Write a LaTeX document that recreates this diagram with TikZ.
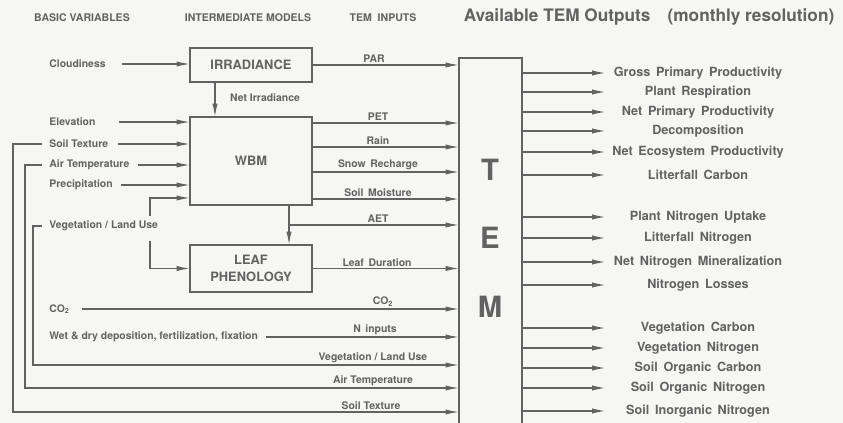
\documentclass[tikz,border=0pt]{standalone}
\usepackage{fontspec}
\setmainfont{TeX Gyre Heros}
\newfontfamily\widefont[WordSpace=1.6]{TeX Gyre Heros}
\usetikzlibrary{arrows.meta,positioning,calc}
\definecolor{ink}{RGB}{98,98,98}
\definecolor{paper}{RGB}{246,246,244}

\begin{document}
\begin{tikzpicture}[
  x=0.03cm, y=-0.03cm,
  every node/.style={text=ink, font=\bfseries\fontsize{8.9}{10}\selectfont},
  head/.style={font=\bfseries\fontsize{9}{11}\selectfont},
  model/.style={rectangle, draw=ink, line width=0.9pt, minimum width=3.66cm, align=center, font=\bfseries\fontsize{11}{13}\selectfont},
  var/.style={anchor=west, inner sep=1pt},
  lab/.style={anchor=south, inner sep=2pt, font=\widefont\bfseries\fontsize{8.9}{10}\selectfont},
  plainlab/.style={anchor=south, inner sep=2pt},
  outl/.style={font=\widefont\bfseries\fontsize{10.8}{12}\selectfont},
  big/.style={font=\bfseries\fontsize{25}{27}\selectfont},
  arr/.style={draw=ink, line width=0.9pt, -{Latex[length=11pt,width=4.5pt]}},
]
  % frame
  \useasboundingbox (0,0) rectangle (843,423);
  \clip (0,0) rectangle (843,423);
  \fill[paper] (0,0) rectangle (843,423);

  % column heads
  \node[head] (hbasic) at (82,18) {BASIC VARIABLES};
  \node[head] (hinter) at (248,18) {INTERMEDIATE MODELS};
  \node[head] (hinput) at (383,18) {TEM\ \ INPUTS};
  \node[font=\bfseries\fontsize{14.7}{16}\selectfont] (hout) at (649,17) {Available TEM Outputs\quad(monthly resolution)};

  % models
  \node[model, minimum height=1.02cm] (irr) at (251,65) {IRRADIANCE};
  \node[model, minimum height=2.64cm] (wbm) at (251,161) {WBM};
  \node[model, minimum height=1.41cm] (leaf) at (251,268.5) {LEAF\\[2pt]PHENOLOGY};
  \node[model, minimum width=1.89cm, minimum height=11.46cm] (tem) at (490.5,249) {};
  \node[big] (temT) at (490,170) {T};
  \node[big] (temE) at (490,238) {E};
  \node[big] (temM) at (490,307) {M};

  % basic variables
  \node[var] (cloud) at (48,64) {Cloudiness};
  \node[var] (elev) at (48,122) {Elevation};
  \node[var] (soil) at (48,144) {Soil Texture};
  \node[var] (air) at (48,165) {Air Temperature};
  \node[var] (prec) at (48,185) {Precipitation};
  \node[var] (veg) at (48,226) {Vegetation / Land Use};
  \node[var] (co) at (48,309) {CO\textsubscript{2}};
  \node[var] (dep) at (48,337) {Wet \& dry deposition, fertilization, fixation};

  \draw[arr, shorten <=13pt] (cloud.east) -- (cloud.east -| irr.west);
  \draw[arr, shorten <=19pt] (elev.east) -- (elev.east -| wbm.west);
  \draw[arr, shorten <=7pt] (soil.east) -- (soil.east -| wbm.west);
  \draw[arr, shorten <=6pt] (air.east) -- (air.east -| wbm.west);
  \draw[arr, shorten <=6pt] (prec.east) -- (prec.east -| wbm.west);
  \draw[arr, shorten <=3pt] (veg.north -| 150,0) |- (wbm.west |- 0,198);
  \draw[arr, shorten <=7pt] (veg.south -| 150,0) |- (leaf.west);

  \draw[arr] (irr.south -| 215,0) -- (wbm.north -| 215,0);
  \node[anchor=west] (netirr) at (226,98) {Net Irradiance};

  % TEM inputs
  \draw[arr] (irr.east) -- (irr.east -| tem.west);
  \node[lab] (lpar) at (374,65) {PAR};
  \foreach \yy/\txt [count=\i] in {123/PET, 147/Rain, 172/Snow Recharge, 199/Soil Moisture}{
    \draw[arr] (wbm.east |- 0,\yy) -- (tem.west |- 0,\yy);
    \node[lab] (lwbm\i) at (378,\yy) {\txt};
  }
  \coordinate (drop) at (wbm.south -| 289,0);
  \draw[arr] (drop) -- (drop |- leaf.north);
  \draw[arr] (drop |- 0,225) -- (tem.west |- 0,225);
  \node[lab] (laet) at (378,225) {AET};
  \draw[arr] (leaf.east) -- (leaf.east -| tem.west);
  \node[lab] (lleaf) at (377,269) {Leaf Duration};
  \draw[arr, shorten <=9pt] (co.east) -- (co.east -| tem.west);
  \node[lab] (lco) at (383,309) {CO\textsubscript{2}};
  \draw[arr, shorten <=6pt] (dep.east) -- (dep.east -| tem.west);
  \node[lab] (ldep) at (375,337) {N inputs};
  \draw[arr, shorten <=5pt] (veg.west) -| (33,365) -- (tem.west |- 0,365);
  \node[plainlab] (lveg) at (373,365) {Vegetation / Land Use};
  \draw[arr, shorten <=5pt] (air.west) -| (25,388) -- (tem.west |- 0,388);
  \node[plainlab] (lair) at (373,388) {Air Temperature};
  \draw[arr, shorten <=5pt] (soil.west) -| (13,412) -- (tem.west |- 0,412);
  \node[plainlab] (lsoil) at (371,412) {Soil Texture};

  % TEM outputs
  \foreach \yy/\txt [count=\i] in {73/Gross Primary Productivity, 92/Plant Respiration,
      112/Net Primary Productivity, 131/Decomposition, 152/Net Ecosystem Productivity,
      175/Litterfall Carbon, 217/Plant Nitrogen Uptake, 238/Litterfall Nitrogen,
      262/Net Nitrogen Mineralization, 285/Nitrogen Losses, 328/Vegetation Carbon,
      348/Vegetation Nitrogen, 368/Soil Organic Carbon, 388/Soil Organic Nitrogen,
      411/Soil Inorganic Nitrogen}{
    \coordinate (tip\i) at (605,\yy);
    \draw[arr] (tem.east |- tip\i) -- (tip\i);
    \node[outl] (out\i) at (698,\yy) {\txt};
  }
\end{tikzpicture}
\end{document}
